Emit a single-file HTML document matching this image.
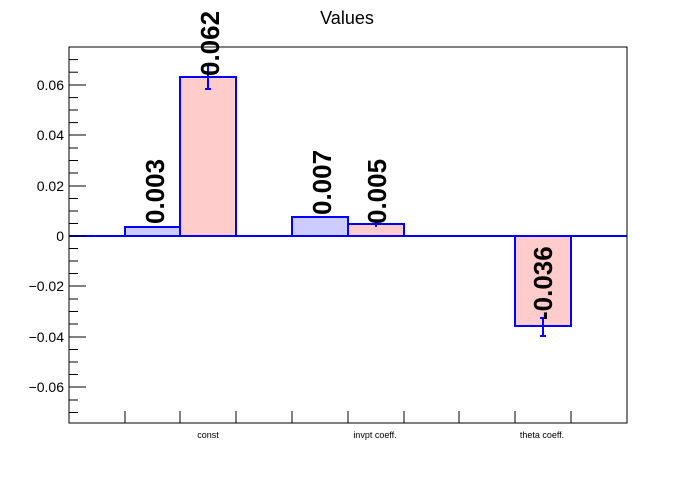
<!DOCTYPE html>
<html><head><style>body{margin:0;background:#fff}</style></head><body>
<svg width="696" height="472" xmlns="http://www.w3.org/2000/svg" font-family="Liberation Sans, Arial, sans-serif">
<rect width="696" height="472" fill="#fff"/>
<text x="347" y="24" font-size="18" text-anchor="middle">Values</text>
<g stroke="#0000ff" stroke-width="2">
<rect x="125" y="227" width="55" height="9" fill="#ccccff"/>
<rect x="180" y="77" width="56" height="159" fill="#ffcccc"/>
<rect x="292" y="217" width="56" height="19" fill="#ccccff"/>
<rect x="348" y="224" width="56" height="12" fill="#ffcccc"/>
<rect x="515" y="236" width="56" height="90" fill="#ffcccc"/>
<line x1="208" y1="64" x2="208" y2="89"/><line x1="205" y1="89" x2="211" y2="89"/><line x1="205" y1="64" x2="211" y2="64"/>
<line x1="376" y1="221" x2="376" y2="227"/>
<line x1="543" y1="318" x2="543" y2="336"/><line x1="540" y1="336" x2="546" y2="336"/><line x1="540" y1="318" x2="546" y2="318"/>
<line x1="69" y1="236" x2="627" y2="236"/>
</g>
<rect x="69" y="47" width="558" height="376" fill="none" stroke="#000" stroke-width="1"/>
<g stroke="#000" stroke-width="1">
<line x1="69" y1="85" x2="86" y2="85"/><line x1="69" y1="135" x2="86" y2="135"/><line x1="69" y1="186" x2="86" y2="186"/>
<line x1="69" y1="236" x2="86" y2="236"/><line x1="69" y1="286" x2="86" y2="286"/><line x1="69" y1="337" x2="86" y2="337"/><line x1="69" y1="387" x2="86" y2="387"/>
<line x1="69" y1="59.6" x2="78" y2="59.6"/><line x1="69" y1="72.2" x2="78" y2="72.2"/><line x1="69" y1="97.6" x2="78" y2="97.6"/><line x1="69" y1="110" x2="78" y2="110"/><line x1="69" y1="122.6" x2="78" y2="122.6"/>
<line x1="69" y1="148" x2="78" y2="148"/><line x1="69" y1="160.5" x2="78" y2="160.5"/><line x1="69" y1="173" x2="78" y2="173"/>
<line x1="69" y1="198.5" x2="78" y2="198.5"/><line x1="69" y1="211" x2="78" y2="211"/><line x1="69" y1="223.5" x2="78" y2="223.5"/>
<line x1="69" y1="248.5" x2="78" y2="248.5"/><line x1="69" y1="261" x2="78" y2="261"/><line x1="69" y1="273.5" x2="78" y2="273.5"/>
<line x1="69" y1="299" x2="78" y2="299"/><line x1="69" y1="311.5" x2="78" y2="311.5"/><line x1="69" y1="324" x2="78" y2="324"/>
<line x1="69" y1="349.5" x2="78" y2="349.5"/><line x1="69" y1="362" x2="78" y2="362"/><line x1="69" y1="374.5" x2="78" y2="374.5"/>
<line x1="69" y1="400" x2="78" y2="400"/><line x1="69" y1="412.5" x2="78" y2="412.5"/>
<line x1="125" y1="411" x2="125" y2="423"/><line x1="180" y1="411" x2="180" y2="423"/><line x1="236" y1="411" x2="236" y2="423"/>
<line x1="292" y1="411" x2="292" y2="423"/><line x1="348" y1="411" x2="348" y2="423"/><line x1="404" y1="411" x2="404" y2="423"/>
<line x1="459" y1="411" x2="459" y2="423"/><line x1="515" y1="411" x2="515" y2="423"/><line x1="571" y1="411" x2="571" y2="423"/>
</g>
<g font-size="14" text-anchor="end">
<text x="64" y="90">0.06</text><text x="64" y="140">0.04</text><text x="64" y="191">0.02</text><text x="64" y="241">0</text>
<text x="64" y="291">−0.02</text><text x="64" y="342">−0.04</text><text x="64" y="392">−0.06</text>
</g>
<g font-size="9" text-anchor="middle">
<text x="208" y="438">const</text><text x="375" y="438">invpt coeff.</text><text x="542" y="438">theta coeff.</text>
</g>
<g font-size="26" font-weight="bold">
<text transform="translate(164,224) rotate(-90)">0.003</text>
<text transform="translate(219,76) rotate(-90)">0.062</text>
<text transform="translate(331,215) rotate(-90)">0.007</text>
<text transform="translate(386,224) rotate(-90)">0.005</text>
<text transform="translate(552,320) rotate(-90)">-0.036</text>
</g>
</svg>
</body></html>
